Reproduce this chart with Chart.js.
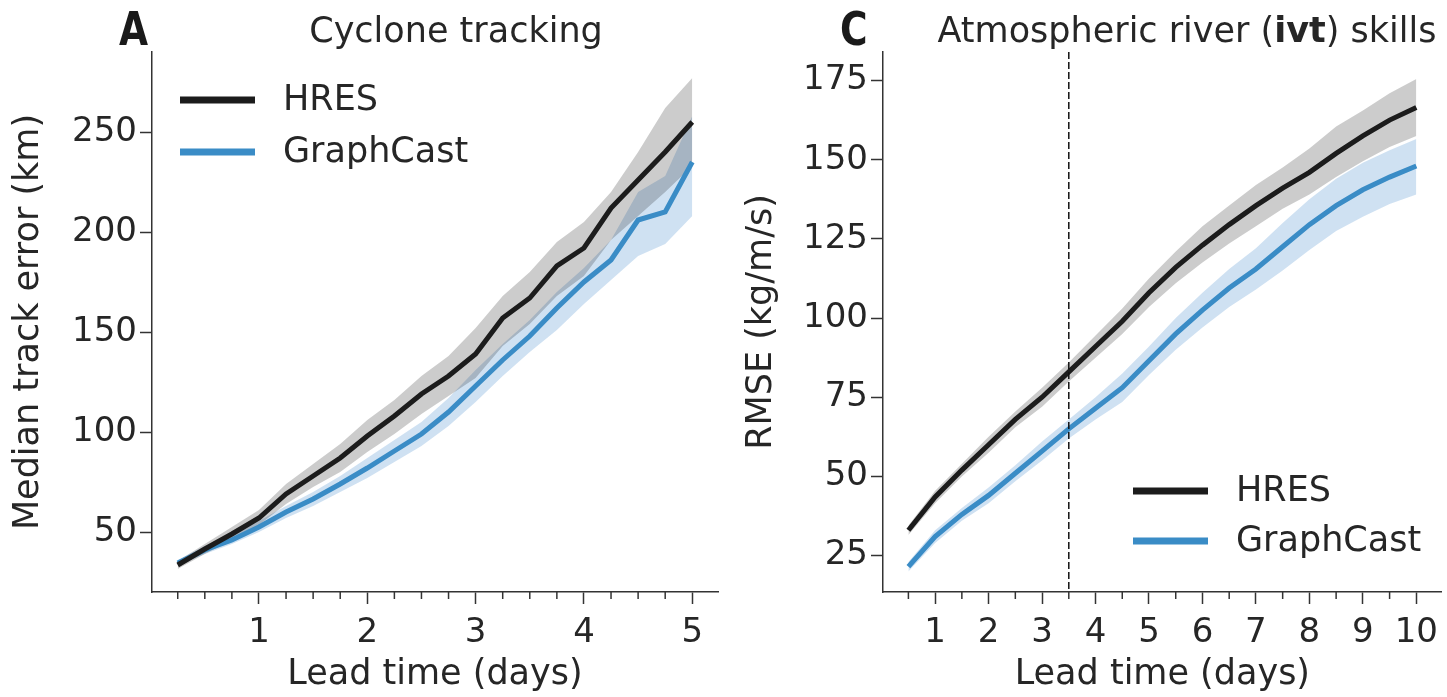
<!DOCTYPE html>
<html>
<head>
<meta charset="utf-8">
<script src="https://cdn.jsdelivr.net/npm/chart.js@4.4.1/dist/chart.umd.min.js"></script>
<style>
  html, body { margin: 0; padding: 0; background: #ffffff; width: 1447px; height: 697px; overflow: hidden; }
  #wrapA { position: absolute; left: 0; top: 0; width: 723px; height: 697px; }
  #wrapC { position: absolute; left: 723px; top: 0; width: 724px; height: 697px; }
</style>
</head>
<body>
<div id="wrapA"><canvas id="chartA"></canvas></div>
<div id="wrapC"><canvas id="chartC"></canvas></div>
<script>
// ---------------- Data: panel A (cyclone tracking) ----------------
const cycloneDays = [0.25, 0.5, 0.75, 1, 1.25, 1.5, 1.75, 2, 2.25, 2.5, 2.75, 3, 3.25, 3.5, 3.75, 4, 4.25, 4.5, 4.75, 5];
const cycloneHres      = [33.5, 41.5, 49, 57, 69, 78, 87, 98, 108, 119, 128, 139, 157, 167, 183, 192, 212, 226, 240, 255];
const cycloneHresUpper = [35.5, 44, 52.5, 61, 74, 84, 94, 106, 116, 128, 138, 152, 168, 180, 195, 205, 220, 240, 262, 277];
const cycloneHresLower = [31.5, 39, 46, 53.5, 64, 72.5, 80, 90, 99, 109, 118, 127, 143, 154, 168, 178, 196, 208, 220, 233];
const cycloneGc        = [34.5, 41, 46, 52.5, 60, 66.5, 74, 82, 90.5, 99, 110, 123, 136, 148, 162, 175, 186, 206, 210, 235];
const cycloneGcUpper   = [36, 43, 48.5, 55.5, 63, 70, 78, 87, 96, 105, 117, 131, 144, 156, 170, 182, 196, 220, 228, 258];
const cycloneGcLower   = [33, 39, 44, 50, 57, 63, 70, 77, 85, 93, 103, 115, 128, 140, 151, 164, 176, 188, 194, 208];

// ---------------- Data: panel C (atmospheric river IVT) ----------------
const riverDays = [0.5, 1, 1.5, 2, 2.5, 3, 3.5, 4, 4.5, 5, 5.5, 6, 6.5, 7, 7.5, 8, 8.5, 9, 9.5, 10];
const riverHres      = [33, 43.5, 52, 60, 68, 75, 83, 91, 99, 108, 116, 123, 129.5, 135.5, 141, 146, 152, 157.5, 162.5, 166.5];
const riverHresUpper = [34.5, 45.5, 54, 62.5, 70.5, 78, 86, 94.5, 103, 112.5, 121, 129, 135.5, 142, 147.5, 153.5, 160.5, 165.5, 171, 175.5];
const riverHresLower = [31.5, 41.5, 50, 57.5, 65.5, 72, 80, 87.5, 95, 103.5, 111, 117.5, 123.5, 129, 134.5, 139, 144.5, 149.5, 154, 157.5];
const riverGc        = [21.5, 31, 38, 44, 51, 58, 65, 71.5, 78, 86.5, 95, 102.5, 109.5, 115.5, 122.5, 129.5, 135.5, 140.5, 144.5, 148];
const riverGcUpper   = [23, 33, 40, 46.5, 53.5, 61, 68, 75, 82.5, 91, 100, 108, 115.5, 122, 130, 137.5, 144, 149, 153, 156.5];
const riverGcLower   = [20, 29, 36, 41.5, 48.5, 55, 62, 68, 73.5, 82, 90, 97, 103.5, 109, 115, 121.5, 127.5, 132, 136, 139];
const riverSplitDay = 3.5;

// ---------------- Labels ----------------
const seriesNames = ['HRES', 'GraphCast'];
const panelA = { letter: 'A', title: [{ t: 'Cyclone tracking', b: false }], xTitle: 'Lead time (days)', yTitle: 'Median track error (km)' };
const panelC = { letter: 'C', title: [{ t: 'Atmospheric river (', b: false }, { t: 'ivt', b: true }, { t: ') skills', b: false }], xTitle: 'Lead time (days)', yTitle: 'RMSE (kg/m/s)' };

// ---------------- Styles ----------------
const FONT = "'DejaVu Sans', 'Liberation Sans', sans-serif";
const TEXT = '#262626';
const AXIS = '#333333';
const HRES_COLOR = '#1c1c1c';
const GC_COLOR = '#3a8cc6';
const HRES_BAND = 'rgba(0,0,0,0.2)';
const GC_BAND = 'rgba(70,140,205,0.26)';
const TICK_SIZE = 34;
const LABEL_SIZE = 35;

function pts(xs, ys) { return xs.map((x, i) => ({ x: x, y: ys[i] })); }

const decorPlugin = {
  id: 'decor',
  afterDraw(chart, args, o) {
    const ctx = chart.ctx, area = chart.chartArea, xs = chart.scales.x;
    ctx.save();
    // minor x ticks
    ctx.strokeStyle = AXIS; ctx.lineWidth = 1.5;
    const first = Math.ceil(xs.min / o.minorStep) * o.minorStep;
    for (let v = first; v <= xs.max + 1e-9; v += o.minorStep) {
      if (Math.abs(v - Math.round(v)) < 1e-9) continue;
      const px = xs.getPixelForValue(v);
      ctx.beginPath(); ctx.moveTo(px, area.bottom); ctx.lineTo(px, area.bottom + o.minorLen); ctx.stroke();
    }
    // split line
    if (o.splitDay != null) {
      const px = xs.getPixelForValue(o.splitDay);
      ctx.strokeStyle = '#111'; ctx.lineWidth = 1.5; ctx.setLineDash([7, 3]);
      ctx.beginPath(); ctx.moveTo(px, area.top); ctx.lineTo(px, area.bottom); ctx.stroke();
      ctx.setLineDash([]);
    }
    // panel letter
    ctx.fillStyle = '#1a1a1a';
    ctx.textBaseline = 'alphabetic';
    ctx.textAlign = 'left';
    ctx.save();
    ctx.translate(o.letterX, o.letterY);
    ctx.scale(0.8, 1);
    ctx.font = 'bold 47px ' + FONT;
    ctx.fillText(o.letter, 0, 0);
    ctx.restore();
    // title (mixed weights)
    ctx.fillStyle = TEXT;
    let total = 0;
    const fonts = o.title.map(p => (p.b ? 'bold ' : '') + LABEL_SIZE + 'px ' + FONT);
    o.title.forEach((p, i) => { ctx.font = fonts[i]; total += ctx.measureText(p.t).width; });
    let x = o.titleCX - total / 2;
    o.title.forEach((p, i) => { ctx.font = fonts[i]; ctx.fillText(p.t, x, o.titleY); x += ctx.measureText(p.t).width; });
    // legend
    ctx.font = LABEL_SIZE + 'px ' + FONT;
    ctx.textBaseline = 'middle';
    for (let i = 0; i < 2; i++) {
      const ds = chart.data.datasets[i];
      const y = o.legY + i * o.legGap;
      ctx.strokeStyle = ds.borderColor; ctx.lineWidth = 7; ctx.lineCap = 'butt';
      ctx.beginPath(); ctx.moveTo(o.legX, y); ctx.lineTo(o.legX + 75, y); ctx.stroke();
      ctx.fillStyle = TEXT;
      ctx.fillText(ds.label, o.legX + 103, y + 1);
    }
    ctx.restore();
  }
};

function makeChart(id, cfg) {
  const datasets = [
    { label: seriesNames[0], data: pts(cfg.days, cfg.hres), borderColor: HRES_COLOR, borderWidth: 5, pointRadius: 0, fill: false, tension: 0 },
    { label: seriesNames[1], data: pts(cfg.days, cfg.gc), borderColor: GC_COLOR, borderWidth: 5, pointRadius: 0, fill: false, tension: 0 },
    { label: 'HRES band', data: pts(cfg.days, cfg.hresU), borderColor: 'rgba(0,0,0,0)', borderWidth: 0, backgroundColor: HRES_BAND, pointRadius: 0, fill: '+1' },
    { label: 'HRES band low', data: pts(cfg.days, cfg.hresL), borderColor: 'rgba(0,0,0,0)', borderWidth: 0, pointRadius: 0, fill: false },
    { label: 'GC band', data: pts(cfg.days, cfg.gcU), borderColor: 'rgba(0,0,0,0)', borderWidth: 0, backgroundColor: GC_BAND, pointRadius: 0, fill: '+1' },
    { label: 'GC band low', data: pts(cfg.days, cfg.gcL), borderColor: 'rgba(0,0,0,0)', borderWidth: 0, pointRadius: 0, fill: false }
  ];
  return new Chart(document.getElementById(id), {
    type: 'line',
    data: { datasets },
    plugins: [decorPlugin],
    options: {
      responsive: true,
      maintainAspectRatio: false,
      animation: false,
      devicePixelRatio: 1,
      layout: { padding: { left: 0, top: 52, right: cfg.padRight, bottom: 1 } },
      plugins: {
        legend: { display: false },
        tooltip: { enabled: false },
        decor: cfg.decor
      },
      scales: {
        x: {
          type: 'linear', min: cfg.xMin, max: cfg.xMax,
          ticks: { stepSize: 1, includeBounds: false, color: TEXT, font: { family: FONT, size: TICK_SIZE }, padding: 9, maxRotation: 0 },
          grid: { display: true, drawOnChartArea: false, drawTicks: true, tickLength: 12, tickColor: AXIS, tickWidth: 1.5 },
          border: { display: true, color: AXIS, width: 1.5 },
          title: { display: true, text: cfg.xTitle, color: TEXT, font: { family: FONT, size: LABEL_SIZE }, padding: { top: 0, bottom: 0 } },
          afterFit: s => { s.height = 104; }
        },
        y: {
          type: 'linear', min: cfg.yMin, max: cfg.yMax,
          ticks: { stepSize: cfg.yStep, includeBounds: false, color: TEXT, font: { family: FONT, size: TICK_SIZE }, padding: 3 },
          grid: { display: true, drawOnChartArea: false, drawTicks: true, tickLength: 12, tickColor: AXIS, tickWidth: 1.5 },
          border: { display: true, color: AXIS, width: 1.5 },
          title: { display: true, text: cfg.yTitle, color: TEXT, font: { family: FONT, size: LABEL_SIZE }, padding: { top: cfg.yTitlePad, bottom: 0 } },
          afterFit: s => { s.width = cfg.yWidth; }
        }
      }
    }
  });
}

makeChart('chartA', {
  days: cycloneDays, hres: cycloneHres, gc: cycloneGc,
  hresU: cycloneHresUpper, hresL: cycloneHresLower, gcU: cycloneGcUpper, gcL: cycloneGcLower,
  xMin: 0.0125, xMax: 5.2375, yMin: 20, yMax: 290, yStep: 50,
  xTitle: panelA.xTitle, yTitle: panelA.yTitle, yWidth: 152, padRight: 5, yTitlePad: 8,
  decor: { letter: panelA.letter, letterX: 119, letterY: 45, title: panelA.title, titleCX: 456, titleY: 42,
           legX: 180, legY: 100, legGap: 52, minorStep: 0.25, minorLen: 7, splitDay: null }
});

makeChart('chartC', {
  days: riverDays, hres: riverHres, gc: riverGc,
  hresU: riverHresUpper, hresL: riverHresLower, gcU: riverGcUpper, gcL: riverGcLower,
  xMin: 0.025, xMax: 10.475, yMin: 13.5, yMax: 184, yStep: 25,
  xTitle: panelC.xTitle, yTitle: panelC.yTitle, yWidth: 160, padRight: 1, yTitlePad: 18,
  decor: { letter: panelC.letter, letterX: 117, letterY: 45, title: panelC.title, titleCX: 464, titleY: 42,
           legX: 410, legY: 491, legGap: 50, minorStep: 0.5, minorLen: 7, splitDay: riverSplitDay }
});
</script>
</body>
</html>
